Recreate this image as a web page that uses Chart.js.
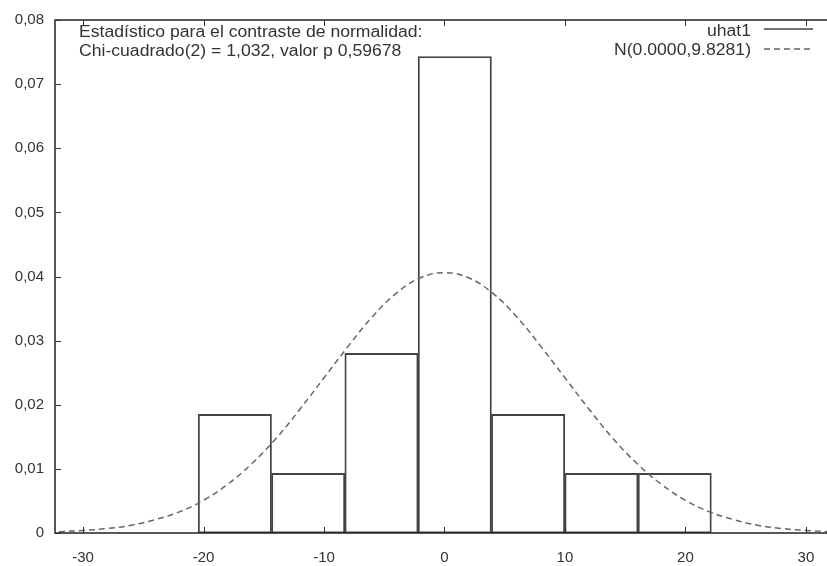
<!DOCTYPE html>
<html>
<head>
<meta charset="utf-8">
<script src="https://cdn.jsdelivr.net/npm/chart.js@4.4.1/dist/chart.umd.min.js"></script>
<style>
  html, body { margin: 0; padding: 0; background: #fff; overflow: hidden; }
  #wrap { width: 831px; height: 566px; }
</style>
</head>
<body>
<div id="wrap"><canvas id="myChart"></canvas></div>
<script>
// histogram bins (centre of each bar) and density
var binCenters = [-17.40, -11.315, -5.23, 0.855, 6.94, 13.025, 19.11];
var binDensity = [0.0185, 0.0093, 0.0280, 0.0743, 0.0185, 0.0093, 0.0093];

// dashed normal curve
var curveX = [-32, -30, -28, -26, -24, -22, -20, -18, -16, -14, -12, -10, -8, -6, -4, -2, 0,
              2, 4, 6, 8, 10, 12, 14, 16, 18, 20, 22, 24, 26, 28, 30, 32];
var curveY = [0.0002, 0.0004, 0.0007, 0.0012, 0.0021, 0.0033, 0.0051, 0.0076, 0.0108, 0.0147, 0.0193, 0.0242, 0.0291, 0.0337, 0.0374, 0.0398, 0.0406,
              0.0398, 0.0374, 0.0337, 0.0291, 0.0242, 0.0193, 0.0147, 0.0108, 0.0076, 0.0051, 0.0033, 0.0021, 0.0012, 0.0007, 0.0004, 0.0002];

var xTicks = [-30, -20, -10, 0, 10, 20, 30];
var yTicks = [0, 0.01, 0.02, 0.03, 0.04, 0.05, 0.06, 0.07, 0.08];

var noteLines = ['Estadístico para el contraste de normalidad:', 'Chi-cuadrado(2) = 1,032, valor p 0,59678'];
var legendLabels = ['uhat1', 'N(0.0000,9.8281)'];

var FONT = '"Liberation Sans", Arial, sans-serif';
var INK = '#333';

// text a bit wider than the font, like the original render
function wideText(c, txt, x, y, align) {
  c.save();
  c.translate(x, y);
  c.scale(1.1, 1);
  c.textAlign = align;
  c.fillText(txt, 0, 0);
  c.restore();
}

// frame, inward ticks, note and legend (gnuplot style)
var framePlugin = {
  id: 'frame',
  afterDraw: function (chart) {
    var c = chart.ctx, a = chart.chartArea;
    var xs = chart.scales.x, ys = chart.scales.y;
    c.save();
    c.strokeStyle = '#222';
    c.lineWidth = 1.5;
    c.strokeRect(a.left, a.top, a.right - a.left, a.bottom - a.top);

    c.lineWidth = 1;
    c.strokeStyle = '#333';
    c.beginPath();
    xTicks.forEach(function (v) {
      var px = Math.round(xs.getPixelForValue(v)) + 0.5;
      c.moveTo(px, a.bottom); c.lineTo(px, a.bottom - 6);
      c.moveTo(px, a.top); c.lineTo(px, a.top + 6);
    });
    yTicks.forEach(function (v) {
      var py = Math.round(ys.getPixelForValue(v)) + 0.5;
      c.moveTo(a.left, py); c.lineTo(a.left + 6, py);
    });
    c.stroke();

    c.fillStyle = INK;
    c.font = '16px ' + FONT;
    c.textBaseline = 'alphabetic';
    wideText(c, noteLines[0], 79, 37, 'left');
    wideText(c, noteLines[1], 79, 56, 'left');
    wideText(c, legendLabels[0], 751, 36, 'right');
    wideText(c, legendLabels[1], 751, 55, 'right');

    c.strokeStyle = '#444';
    c.lineWidth = 1.5;
    c.beginPath();
    c.moveTo(764, 29); c.lineTo(813, 29);
    c.stroke();
    c.strokeStyle = '#666';
    c.setLineDash([6, 4]);
    c.beginPath();
    c.moveTo(764, 49); c.lineTo(813, 49);
    c.stroke();
    c.restore();
  }
};

var ctx = document.getElementById('myChart');
var myChart = new Chart(ctx, {
  type: 'bar',
  data: {
    datasets: [{
      type: 'line',
      label: legendLabels[1],
      data: curveX.map(function (x, i) { return { x: x, y: curveY[i] }; }),
      borderColor: '#666',
      borderWidth: 1.5,
      borderDash: [6, 4],
      pointRadius: 0,
      tension: 0.4,
      fill: false,
      order: 0
    }, {
      type: 'bar',
      label: legendLabels[0],
      data: binCenters.map(function (x, i) { return { x: x, y: binDensity[i] }; }),
      backgroundColor: 'rgba(255,255,255,0)',
      borderColor: '#444',
      borderWidth: 1.2,
      borderSkipped: false,
      barPercentage: 1,
      categoryPercentage: 1,
      order: 1
    }]
  },
  options: {
    responsive: true,
    maintainAspectRatio: false,
    animation: false,
    layout: { padding: { top: 13, right: 1, left: 0, bottom: 0 } },
    plugins: {
      legend: { display: false },
      tooltip: { enabled: false }
    },
    scales: {
      x: {
        type: 'linear',
        offset: false,
        min: -32.33,
        max: 32.0,
        afterBuildTicks: function (scale) {
          scale.ticks = xTicks.map(function (v) { return { value: v }; });
        },
        afterFit: function (scale) { scale.height = 33; },
        grid: { display: false, offset: false },
        border: { display: false },
        ticks: {
          color: INK,
          font: { family: FONT, size: 15 },
          padding: 8,
          maxRotation: 0,
          autoSkip: false
        }
      },
      y: {
        min: 0,
        max: 0.08,
        afterBuildTicks: function (scale) {
          scale.ticks = yTicks.map(function (v) { return { value: v }; });
        },
        afterFit: function (scale) { scale.width = 55; },
        grid: { display: false, drawTicks: false },
        border: { display: false },
        ticks: {
          color: INK,
          font: { family: FONT, size: 15 },
          padding: 11,
          callback: function (v) {
            return v === 0 ? '0' : v.toFixed(2).replace('.', ',');
          }
        }
      }
    }
  },
  plugins: [framePlugin]
});
</script>
</body>
</html>
